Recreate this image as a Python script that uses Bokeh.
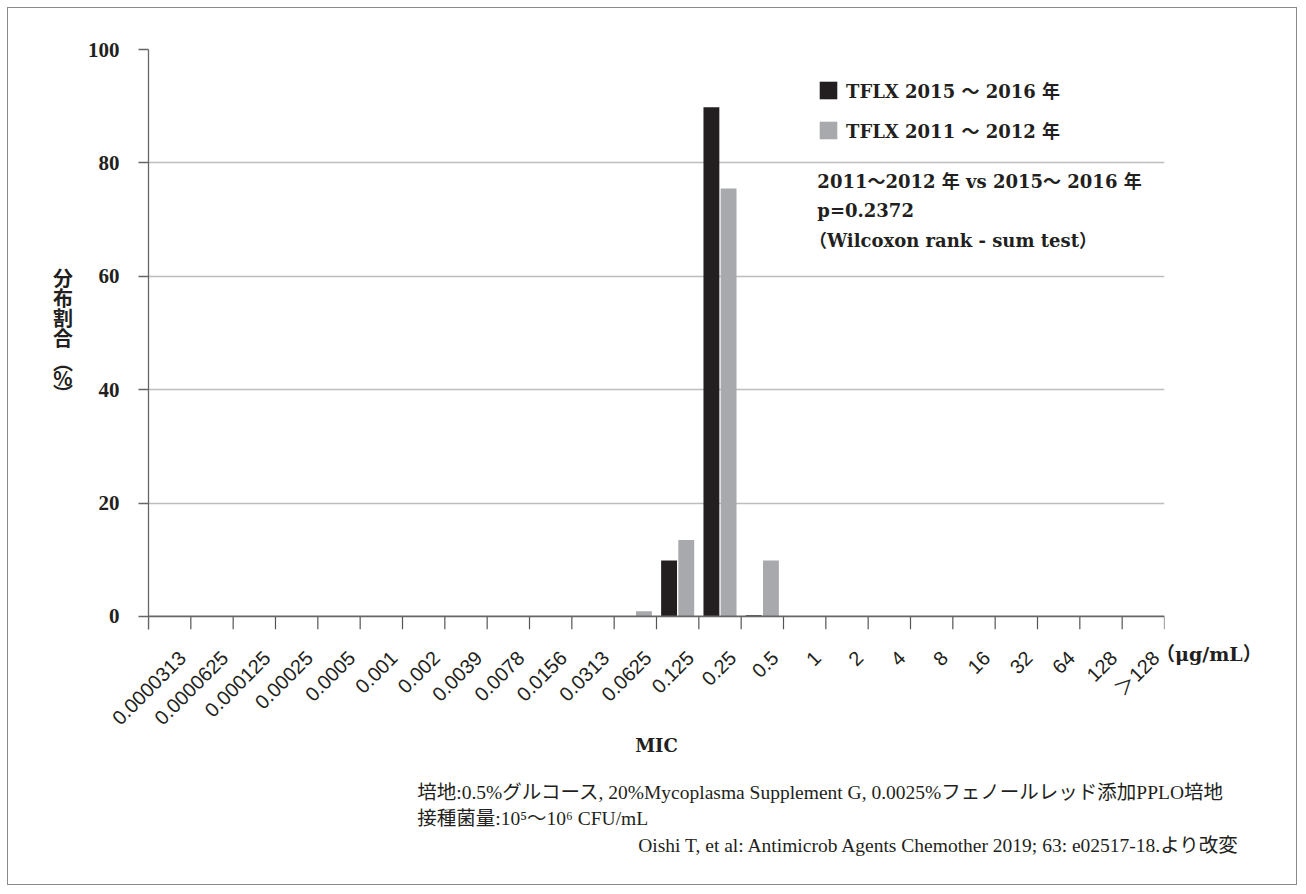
import math
from bokeh.plotting import figure
from bokeh.models import (Range1d, FixedTicker, Label, Legend,
                          LegendItem, Span, ColumnDataSource)
from bokeh.transform import dodge
from bokeh.embed import file_html
from bokeh.resources import INLINE

# ---------------- data ----------------
mic_labels = ["0.0000313", "0.0000625", "0.000125", "0.00025", "0.0005",
              "0.001", "0.002", "0.0039", "0.0078", "0.0156", "0.0313",
              "0.0625", "0.125", "0.25", "0.5", "1", "2", "4", "8", "16",
              "32", "64", "128", "＞128"]
pct_2015_2016 = [0, 0, 0, 0, 0, 0, 0, 0, 0, 0, 0,
                 0, 9.85, 89.8, 0.2,
                 0, 0, 0, 0, 0, 0, 0, 0, 0]
pct_2011_2012 = [0, 0, 0, 0, 0, 0, 0, 0, 0, 0, 0,
                 0.9, 13.5, 75.5, 9.85,
                 0, 0, 0, 0, 0, 0, 0, 0, 0]
y_ticks = [0, 20, 40, 60, 80, 100]
series_names = ["TFLX 2015 ～ 2016 年", "TFLX 2011 ～ 2012 年"]

BLACK = "#231f20"
GRAY = "#a7a9ac"
BSERIF = "DejaVu Serif, Noto Sans CJK JP"
SERIF = "Liberation Serif, Noto Sans CJK JP"

n = len(mic_labels)
slot = [i + 0.5 for i in range(n)]          # centre of each MIC category slot
src = ColumnDataSource(dict(pos=slot, mic=mic_labels, a=pct_2015_2016, b=pct_2011_2012))

p = figure(x_range=Range1d(0, n), y_range=Range1d(-2.3, 100),
           width=1290, height=878, output_backend="svg", toolbar_location=None,
           min_border_left=140, min_border_right=134, min_border_top=41,
           min_border_bottom=257)
p.styles = {"margin": "7px", "border": "1px solid #8a8a8a"}
p.outline_line_color = None
p.background_fill_color = "white"
p.border_fill_color = "white"

r1 = p.vbar(x=dodge("pos", -0.203), top="a", width=0.375,
            source=src, fill_color=BLACK, line_color=None)
r2 = p.vbar(x=dodge("pos", 0.203), top="b", width=0.375,
            source=src, fill_color=GRAY, line_color=None)

# tick marks at category boundaries
bounds = list(range(n + 1))
p.segment(x0=bounds, x1=bounds, y0=[0] * len(bounds), y1=[-2.3] * len(bounds),
          line_color="#555555", line_width=1.2)
p.add_layout(Span(location=0, dimension="width", line_color="#666666", line_width=1.8))

# grid
p.xgrid.visible = False
p.ygrid.ticker = FixedTicker(ticks=y_ticks[1:])
p.ygrid.grid_line_color = "#bdbdbd"
p.ygrid.grid_line_width = 1.3

# y axis
p.yaxis.ticker = FixedTicker(ticks=y_ticks)
p.yaxis.major_label_text_font = "Liberation Serif"
p.yaxis.major_label_text_font_style = "bold"
p.yaxis.major_label_text_font_size = "21px"
p.yaxis.major_label_text_color = BLACK
p.yaxis.axis_line_color = "#666666"
p.yaxis.axis_line_width = 1.3
p.yaxis.major_tick_line_color = "#666666"
p.yaxis.major_tick_line_width = 1.3
p.yaxis.major_tick_out = 10
p.yaxis.major_tick_in = 0
p.yaxis.minor_tick_line_color = None
p.yaxis.major_label_standoff = 19

# x labels: rotated, anchored near the right edge of each category slot
label_pos = [i + 0.8 for i in range(n)]
xax = p.xaxis[0]
xax.ticker = FixedTicker(ticks=label_pos)
xax.major_label_overrides = {v: s for v, s in zip(label_pos, mic_labels)}
xax.axis_line_color = None
xax.major_tick_line_color = None
xax.minor_tick_line_color = None
xax.major_tick_out = 0
xax.major_tick_in = 0
xax.major_label_orientation = math.pi / 4
xax.major_label_text_font = "Liberation Sans, Noto Sans CJK JP"
xax.major_label_text_font_size = "20px"
xax.major_label_text_color = BLACK
xax.major_label_standoff = 25

# legend
legend = Legend(items=[LegendItem(label=series_names[0], renderers=[r1]),
                       LegendItem(label=series_names[1], renderers=[r2])],
                location=(669, 486), glyph_width=22, glyph_height=22,
                label_text_font=BSERIF, label_text_font_style="bold",
                label_text_font_size="18px", label_text_color=BLACK,
                spacing=14, padding=0, margin=0, border_line_color=None,
                background_fill_alpha=0, label_standoff=7)
p.add_layout(legend)


def lab(text, x, y, place="center", size="18px", style="bold", font=BSERIF,
        align="left", baseline="middle", **kw):
    p.add_layout(Label(x=x, y=y, text=text, text_font=font, text_font_size=size,
                       text_font_style=style, text_color=BLACK, text_align=align,
                       text_baseline=baseline, **kw), place)


lab("2011～2012 年 vs  2015～ 2016 年", 15.8, 76.7)
lab("p=0.2372", 15.8, 71.6)
lab("（Wilcoxon rank - sum test）", 15.6, 66.3)

lab("（μg/mL）", 23.8, -6.7, place="right", size="19px")
lab("MIC", 12.0, -22.75, place="below", align="center")
lab("分\n布\n割\n合", -2.02, 54.5, place="left", font="Noto Sans CJK JP",
    size="20px", align="center", text_line_height=0.69)
lab("︵\n%\n︶", -2.02, 42.2, place="left", font="Noto Sans CJK JP",
    size="20px", align="center", text_line_height=0.55)
lab("培地:0.5%グルコース, 20%Mycoplasma Supplement G, 0.0025%フェノールレッド添加PPLO培地",
    6.35, -31.0, place="below", size="19.5px", style="normal", font=SERIF)
lab("接種菌量:10⁵～10⁶ CFU/mL", 6.35, -35.7, place="below", size="19.5px",
    style="normal", font=SERIF)
lab("Oishi T, et al: Antimicrob Agents Chemother 2019; 63: e02517-18.より改変",
    25.8, -40.4, place="below", size="19.5px", style="normal", font=SERIF,
    align="right")

open("out.html", "w").write(file_html(p, INLINE))
